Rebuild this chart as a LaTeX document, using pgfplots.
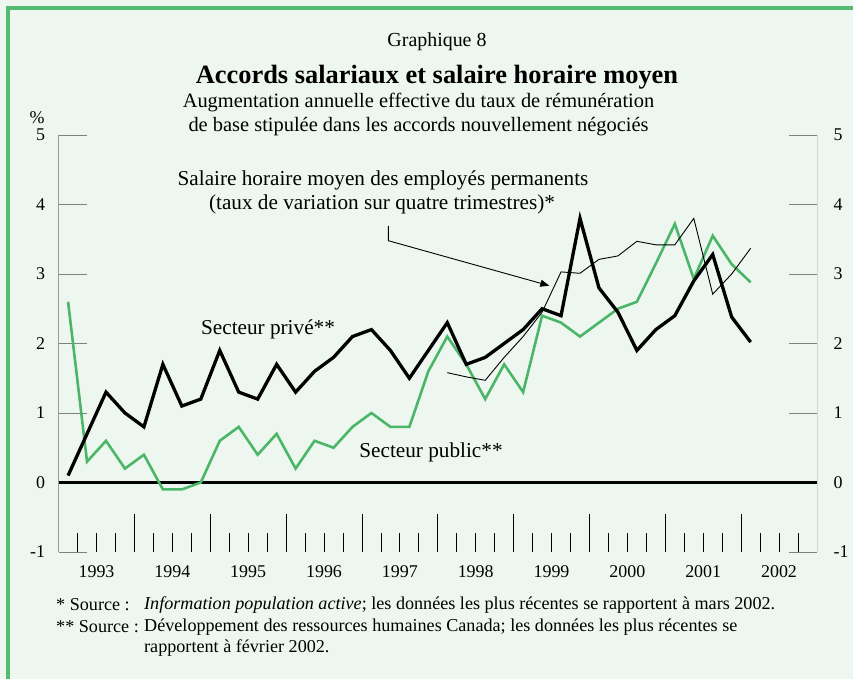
\documentclass[border=0pt]{standalone}
\usepackage{pgfplots}
\pgfplotsset{compat=1.18}
\usepackage{fontspec}
\setmainfont{Liberation Serif}
\usetikzlibrary{arrows.meta}

\definecolor{mint}{RGB}{237,247,240}
\definecolor{frame}{RGB}{84,186,110}
\definecolor{pubgreen}{RGB}{76,182,104}

% quarterly values, plotted at the middle of each quarter
\pgfplotstableread{
x        prive  public
1993.125 0.10   2.60
1993.375 0.70   0.30
1993.625 1.30   0.60
1993.875 1.00   0.20
1994.125 0.80   0.40
1994.375 1.70  -0.10
1994.625 1.10  -0.10
1994.875 1.20   0.00
1995.125 1.90   0.60
1995.375 1.30   0.80
1995.625 1.20   0.40
1995.875 1.70   0.70
1996.125 1.30   0.20
1996.375 1.60   0.60
1996.625 1.80   0.50
1996.875 2.10   0.80
1997.125 2.20   1.00
1997.375 1.90   0.80
1997.625 1.50   0.80
1997.875 1.90   1.60
1998.125 2.30   2.10
1998.375 1.70   1.70
1998.625 1.80   1.20
1998.875 2.00   1.70
1999.125 2.20   1.30
1999.375 2.50   2.40
1999.625 2.40   2.30
1999.875 3.80   2.10
2000.125 2.80   2.30
2000.375 2.45   2.50
2000.625 1.90   2.60
2000.875 2.20   3.15
2001.125 2.40   3.72
2001.375 2.90   2.93
2001.625 3.28   3.55
2001.875 2.38   3.14
2002.125 2.02   2.88
}\accords

\pgfplotstableread{
x        salaire
1998.125 1.58
1998.375 1.52
1998.625 1.47
1998.875 1.80
1999.125 2.10
1999.375 2.45
1999.625 3.03
1999.875 3.01
2000.125 3.21
2000.375 3.26
2000.625 3.47
2000.875 3.42
2001.125 3.42
2001.375 3.80
2001.625 2.71
2001.875 3.00
2002.125 3.37
}\salaire

\begin{document}
\begin{tikzpicture}[x=1bp,y=1bp]
\fill[mint] (0,0) rectangle (853,679);
\fill[frame] (6,0) rectangle (10,673);
\fill[frame] (6,669) rectangle (853,673);

\begin{axis}[
  at={(58.6bp,127bp)}, anchor=south west,
  scale only axis, width=758.4bp, height=417bp,
  xmin=1993, xmax=2003, ymin=-1, ymax=5,
  axis line style={draw=none},
  xtick={1993.5,1994.5,...,2002.5},
  xticklabels={1993,1994,1995,1996,1997,1998,1999,2000,2001,2002},
  xtick style={draw=none},
  xticklabel style={font=\fontsize{18}{21}\selectfont, yshift=-10bp},
  ytick={-1,0,...,5},
  yticklabels={-1,0,1,2,3,4,5},
  ytick pos=both, yticklabel pos=left,
  tick align=inside, major tick length=28bp,
  ytick style={line width=0.8bp},
  yticklabel style={font=\fontsize{18}{21}\selectfont, xshift=-10bp},
]
\draw[line width=0.9bp] (rel axis cs:0,1) -- (rel axis cs:0,0)
  -- (rel axis cs:1,0) -- (rel axis cs:1,1);
\pgfplotsinvokeforeach{1994,...,2002}{
  \draw[line width=0.8bp] (axis cs:#1,-1) -- (axis cs:#1,-0.453);
}
\pgfplotsinvokeforeach{1993,...,2002}{
  \draw[line width=0.8bp] (axis cs:#1.25,-1) -- (axis cs:#1.25,-0.727);
  \draw[line width=0.8bp] (axis cs:#1.5,-1) -- (axis cs:#1.5,-0.727);
  \draw[line width=0.8bp] (axis cs:#1.75,-1) -- (axis cs:#1.75,-0.727);
}
\draw[line width=2.3bp] (axis cs:1993,0) -- (axis cs:2003,0);

\addplot[pubgreen, line width=2.6bp, no markers] table[x=x, y=public] {\accords};
\addplot[black, line width=0.9bp, no markers] table[x=x, y=salaire] {\salaire};
\addplot[black, line width=3.3bp, no markers] table[x=x, y=prive] {\accords};
\end{axis}

% right-hand scale
\foreach \v/\yy in {-1/127,0/196.5,1/266,2/335.5,3/405,4/474.5,5/544}
  \node[anchor=west, font=\fontsize{18}{21}\selectfont] at (830,\yy) {\v};
\node[font=\fontsize{18}{21}\selectfont] at (37,561) {\%};

% titles
\node[font=\fontsize{20}{23}\selectfont] at (437,637) {Graphique 8};
\node[font=\fontsize{26.5}{30}\selectfont\bfseries] at (437,602) {Accords salariaux et salaire horaire moyen};
\node[font=\fontsize{20.5}{23}\selectfont] at (418.5,576) {Augmentation annuelle effective du taux de rémunération};
\node[font=\fontsize{20.5}{23}\selectfont] at (418.5,552) {de base stipulée dans les accords nouvellement négociés};

% annotations
\node[font=\fontsize{21.3}{24}\selectfont] at (383,499) {Salaire horaire moyen des employés permanents};
\node[font=\fontsize{21.3}{24}\selectfont] at (382,475) {(taux de variation sur quatre trimestres)*};
\draw[line width=0.9bp, -{Triangle[length=9bp,width=7bp]}]
  (388.3,453) -- (388.3,438.3) -- (549.3,393.3);
\node[font=\fontsize{21.3}{24}\selectfont] at (268,350) {Secteur privé**};
\node[font=\fontsize{21.3}{24}\selectfont] at (431,227) {Secteur public**};

% sources
\begin{scope}[every node/.style={font=\fontsize{18.2}{21}\selectfont, inner sep=0pt}]
\node[anchor=west] at (56,74) {* Source :};
\node[anchor=west] at (144,74) {\textit{Information population active}; les données les plus récentes se rapportent à mars 2002.};
\node[anchor=west] at (56,52) {** Source :};
\node[anchor=west] at (144,52) {Développement des ressources humaines Canada; les données les plus récentes se};
\node[anchor=west] at (144,31) {rapportent à février 2002.};
\end{scope}

\pgfresetboundingbox
\useasboundingbox (0,0) rectangle (853,679);
\end{tikzpicture}
\end{document}
